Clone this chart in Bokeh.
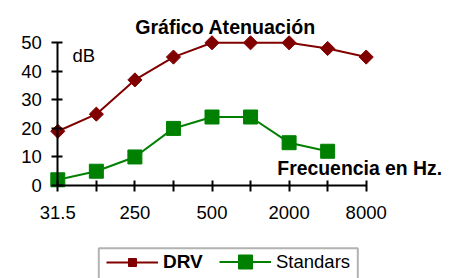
import numpy as np
from bokeh.plotting import figure
from bokeh.models import (Range1d, LinearAxis, FixedTicker, Label, Legend, LegendItem,
                          BoxAnnotation)
from bokeh.embed import file_html
from bokeh.resources import INLINE

# ---- data ----
freq_labels = ["31.5", "", "250", "", "500", "", "2000", "", "8000"]
drv = [19, 25, 37, 45, 50, 50, 50, 48, 45]
standars = [2, 5, 10, 20, 24, 24, 15, 12]
y_ticks = [0, 10, 20, 30, 40, 50]

W, H = 456, 278
# pixel targets for the plot geometry (figure coordinates)
X0PX, XNPX = 57.3, 365.7
Y0PX, YTOPPX = 185.0, 42.3
n = len(drv)
sx = (XNPX - X0PX) / (n - 1)
sy = (Y0PX - YTOPPX) / 50.0
x_start = -X0PX / sx
x_end = (n - 1) + (W - XNPX) / sx
y_end = 50 + YTOPPX / sy
y_start = -(H - Y0PX) / sy

def dx(px):
    return x_start + px / sx

def dy(py):
    return y_end - py / sy

FONT = "Liberation Sans"

p = figure(width=W, height=H, output_backend="svg", toolbar_location=None,
           x_axis_type=None, y_axis_type=None,
           x_range=Range1d(x_start, x_end), y_range=Range1d(y_start, y_end),
           min_border=0, min_border_left=0, min_border_right=0,
           min_border_top=0, min_border_bottom=0)
p.outline_line_color = None
p.background_fill_color = "white"
p.border_fill_color = "white"

xs = list(range(n))

# x axis
xa = LinearAxis(fixed_location=0, ticker=FixedTicker(ticks=xs), bounds=(0, n - 1),
                major_label_overrides={i: lab for i, lab in enumerate(freq_labels)})
# y axis
ya = LinearAxis(fixed_location=0, ticker=FixedTicker(ticks=y_ticks), bounds=(0, 50))
for ax in (xa, ya):
    ax.axis_line_width = 2
    ax.axis_line_color = "black"
    ax.major_tick_line_width = 2
    ax.major_tick_line_color = "black"
    ax.major_tick_in = 5
    ax.major_tick_out = 6
    ax.minor_tick_line_color = None
    ax.major_label_text_font = FONT
    ax.major_label_text_font_size = "18.5px"
    ax.major_label_text_color = "black"
xa.major_label_standoff = 14
ya.major_label_standoff = 10
p.add_layout(xa, "below")
p.add_layout(ya, "left")

RED = "#800000"
GREEN = "#008000"

l1 = p.line(xs, drv, line_color=RED, line_width=2)
m1 = p.scatter(xs, drv, marker="square", size=10, angle=np.pi / 4,
               fill_color=RED, line_color=RED)
l2 = p.line(xs[:len(standars)], standars, line_color=GREEN, line_width=2)
m2 = p.scatter(xs[:len(standars)], standars, marker="square", size=14,
               fill_color=GREEN, line_color=GREEN)

# texts
p.add_layout(Label(x=dx(225.0), y=dy(26.7), text="Gráfico Atenuación",
                   text_font=FONT, text_font_size="19.6px", text_font_style="bold",
                   text_align="center", text_baseline="alphabetic", text_color="black"))
p.add_layout(Label(x=dx(72.0), y=dy(55.0), text="dB",
                   text_font=FONT, text_font_size="18.5px",
                   text_align="left", text_baseline="alphabetic", text_color="black"))
p.add_layout(Label(x=dx(276.8), y=dy(167.3), text="Frecuencia en Hz.",
                   text_font=FONT, text_font_size="19.4px", text_font_style="bold",
                   text_align="left", text_baseline="alphabetic", text_color="black"))

# legend frame
p.add_layout(BoxAnnotation(left=dx(98.3), right=dx(357.3), top=dy(247.7), bottom=dy(284),
                           fill_alpha=0, line_color="black", line_width=2))

LEG_CY = H - 261.7  # legend row centre, from bottom

def make_legend(item, gx, gh, bold):
    lh = max(gh, 22)
    leg = Legend(items=[item], location=(gx, LEG_CY - lh / 2.0),
                 orientation="horizontal", padding=0, margin=0, spacing=0,
                 glyph_width=52, glyph_height=gh, label_height=gh,
                 label_standoff=5, border_line_color=None,
                 background_fill_alpha=0,
                 label_text_font=FONT,
                 label_text_font_size="19px" if bold else "18.5px",
                 label_text_font_style="bold" if bold else "normal",
                 label_text_color="black")
    return leg

p.add_layout(make_legend(LegendItem(label="DRV", renderers=[l1, m1]), 106, 20, True))
p.add_layout(make_legend(LegendItem(label="Standars", renderers=[l2, m2]), 219, 35, False))

open("out.html", "w").write(file_html(p, INLINE))
